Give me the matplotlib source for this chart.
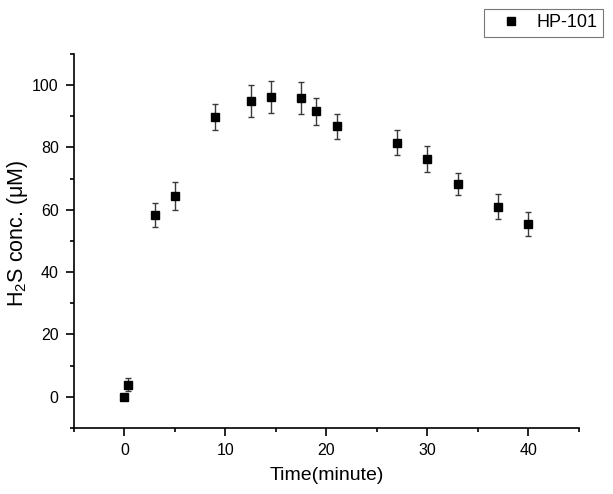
import numpy as np
import matplotlib.pyplot as plt
from matplotlib.ticker import MultipleLocator
from matplotlib.lines import Line2D

# data
time_min = [0, 0.3, 3, 5, 9, 12.5, 14.5, 17.5, 19, 21, 27, 30, 33, 37, 40]
conc = [0, 3.9, 58.4, 64.4, 89.7, 94.9, 96.2, 95.9, 91.6, 86.8, 81.6, 76.3, 68.2, 61.0, 55.5]
err = [0, 2.0, 3.9, 4.5, 4.2, 5.1, 5.0, 5.0, 4.4, 4.1, 4.1, 4.2, 3.5, 4.0, 3.9]
series_name = 'HP-101'

plt.rcParams['font.family'] = ['Liberation Sans', 'DejaVu Sans']
plt.rcParams['mathtext.fontset'] = 'custom'
plt.rcParams['mathtext.rm'] = 'Liberation Sans'

fig = plt.figure(figsize=(6.13, 4.94), dpi=100)
ax = fig.add_axes([0.1207, 0.1336, 0.8238, 0.7571])

ax.errorbar(time_min, conc, yerr=err, fmt='s', color='black', markersize=6,
            ecolor='#3a3a3a', elinewidth=1, capsize=2.5, capthick=1)

ax.set_xlim(-5, 45)
ax.set_ylim(-10, 110)
ax.xaxis.set_major_locator(MultipleLocator(10))
ax.xaxis.set_minor_locator(MultipleLocator(5))
ax.yaxis.set_major_locator(MultipleLocator(20))
ax.yaxis.set_minor_locator(MultipleLocator(10))

for s in ['top', 'right']:
    ax.spines[s].set_visible(False)
for s in ['left', 'bottom']:
    ax.spines[s].set_linewidth(1.2)

ax.tick_params(which='major', direction='out', length=6, width=1.2, labelsize=11.5, pad=5)
ax.tick_params(which='minor', direction='out', length=3, width=1.2)

ax.set_xlabel('Time(minute)', fontsize=14, labelpad=6)
ax.set_ylabel(r'H$_\mathregular{2}$S conc. ($\mathregular{\mu}$M)', fontsize=15.5)
ax.yaxis.set_label_coords(-0.088, 0.52)

# legend shows only the square marker
handle = Line2D([], [], marker='s', ls='', color='black', markersize=6)
leg = fig.legend([handle], [series_name], loc='upper right',
                 bbox_to_anchor=(0.984, 0.982), borderaxespad=0, fontsize=13,
                 frameon=True, fancybox=False, edgecolor='#555555',
                 handletextpad=0.2, borderpad=0.3, handlelength=2.4)
leg.get_frame().set_linewidth(0.8)

fig.savefig('out.png', dpi=100)
